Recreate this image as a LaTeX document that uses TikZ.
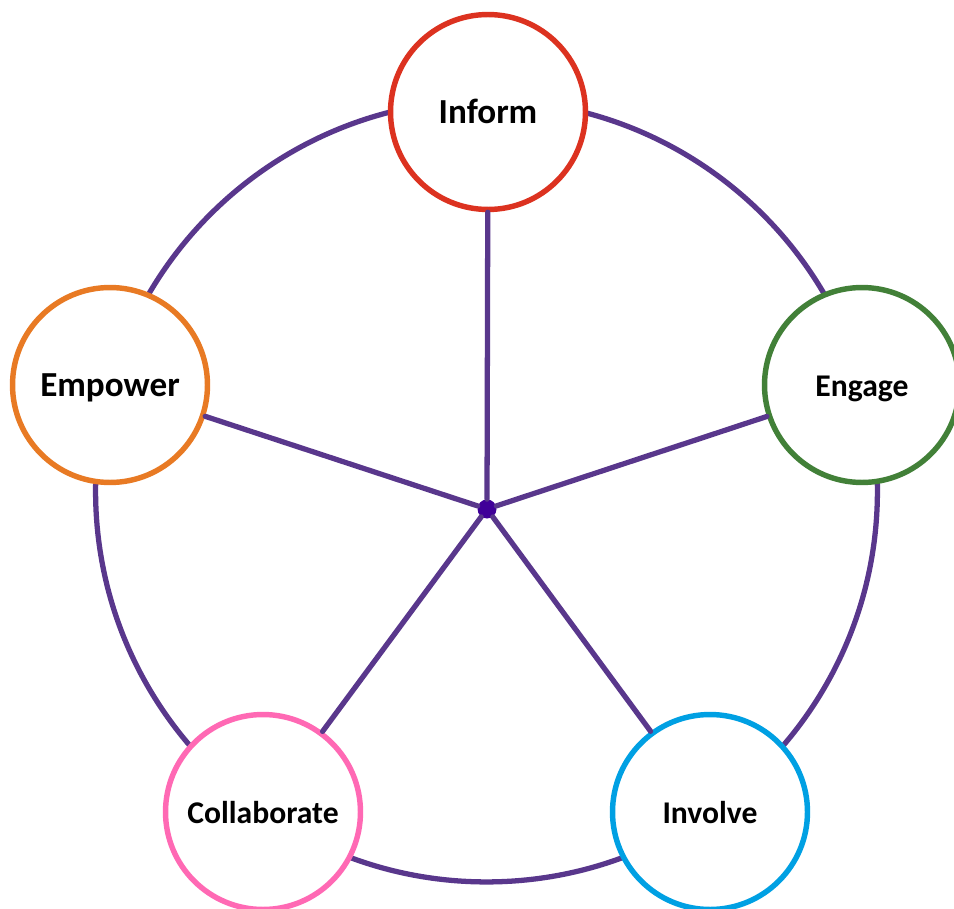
\documentclass[tikz,border=0pt]{standalone}
\usepackage{fontspec}
\setmainfont{Carlito}
\usepackage{tikz}
\definecolor{spokec}{RGB}{89,55,140}
\definecolor{hubc}{RGB}{64,0,153}
\definecolor{informc}{RGB}{220,50,32}
\definecolor{empowerc}{RGB}{232,122,36}
\definecolor{engagec}{RGB}{66,128,56}
\definecolor{collabc}{RGB}{255,105,180}
\definecolor{involvec}{RGB}{0,160,227}

\begin{document}
\begin{tikzpicture}[line cap=round,line join=round,x=0.02cm,y=-0.02cm,
    stage/.style={circle,draw,fill=white,line width=3.1pt,minimum size=3.9cm,inner sep=0pt,text height=13.5pt,text depth=0pt,font=\bfseries\fontsize{20}{24}\selectfont},
    small/.style={font=\bfseries\fontsize{18}{22}\selectfont},
    spoke/.style={draw=spokec,line width=3pt}]
            \clip(0,0) rectangle (954,909);
            \draw [spoke] (486.5,491) circle [radius=7.82cm];
            \node [stage,draw=informc] (inform) at (488,112) {Inform};
            \node [stage,draw=empowerc] (empower) at (110,385) {Empower};
            \node [stage,small,draw=engagec] (engage) at (862,385) {Engage};
            \node [stage,small,draw=collabc] (collab) at (263,812) {Collaborate};
            \node [stage,small,draw=involvec] (involve) at (710,812) {Involve};
            \node [circle,fill=hubc,inner sep=0pt,minimum size=0.38cm] (hub) at (487,509) {};
            \foreach \n in {inform,empower,engage,collab,involve}
                \draw [spoke] (hub) -- (\n);
\end{tikzpicture}
\end{document}
